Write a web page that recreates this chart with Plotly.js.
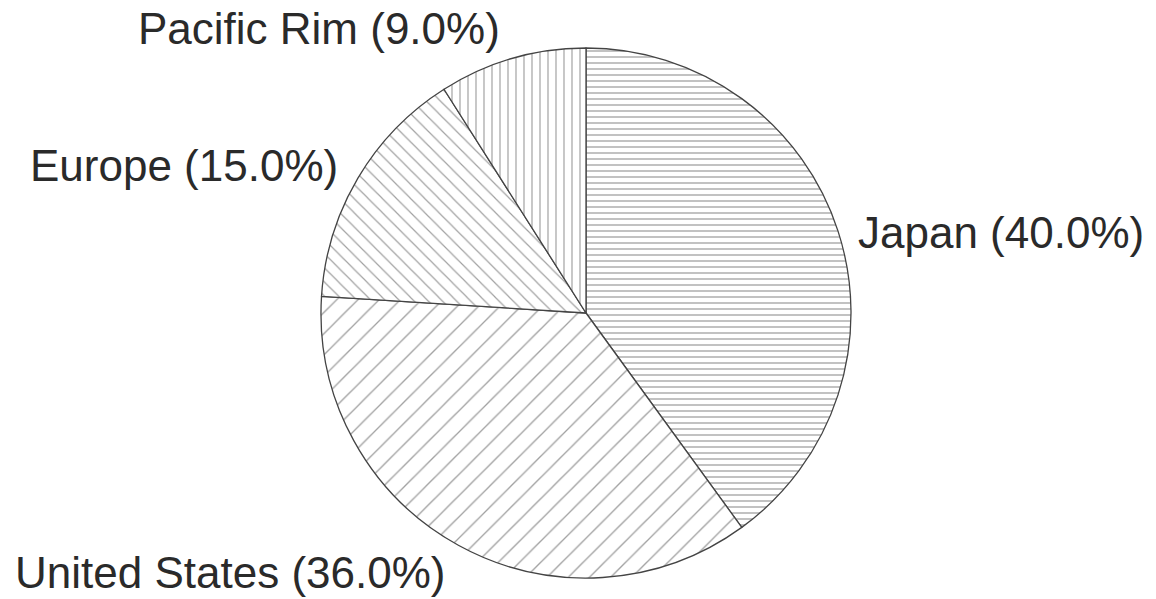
<!DOCTYPE html>
<html>
<head>
<meta charset="utf-8">
<script src="https://cdn.plot.ly/plotly-3.0.1.min.js"></script>
<style>html,body{margin:0;padding:0;background:#fff;}#chart{width:1156px;height:599px;}</style>
</head>
<body>
<div id="chart"></div>
<script>
const regions = ["Japan", "United States", "Europe", "Pacific Rim"];
const shares = [40.0, 36.0, 15.0, 9.0];

const patternShapes = ["-", "/", "\\", "|"];
const patternSizes = [6, 15, 10, 8];
const patternSolidity = [0.22, 0.09, 0.12, 0.15];

// label placement (paper coords) per region
const labelX = [857/1156, 446/1156, 339/1156, 501/1156];
const labelY = [1-232/599, 1-572/599, 1-165/599, 1-28/599];
const labelAnchor = ["left", "right", "right", "right"];

const W = 1156, H = 599;
const cx = 586, cy = 313, r = 265;

const trace = {
  type: "pie",
  labels: regions,
  values: shares,
  sort: false,
  direction: "clockwise",
  rotation: 0,
  textinfo: "none",
  hoverinfo: "label+percent",
  showlegend: false,
  domain: {
    x: [(cx - r) / W, (cx + r) / W],
    y: [1 - (cy + r) / H, 1 - (cy - r) / H]
  },
  marker: {
    colors: ["#ffffff", "#ffffff", "#ffffff", "#ffffff"],
    line: {color: "#444444", width: 1.3},
    pattern: {
      shape: patternShapes,
      size: patternSizes,
      solidity: patternSolidity,
      fgcolor: "#444444",
      bgcolor: "#ffffff",
      fillmode: "overlay"
    }
  }
};

const annotations = regions.map((name, i) => ({
  text: name + " (" + shares[i].toFixed(1) + "%)",
  xref: "paper", yref: "paper",
  x: labelX[i], y: labelY[i],
  xanchor: labelAnchor[i], yanchor: "middle",
  borderpad: 0,
  showarrow: false,
  font: {family: "Liberation Sans, Arial, sans-serif", size: 44, color: "#2a2a2a"}
}));

const layout = {
  width: W, height: H,
  margin: {l: 0, r: 0, t: 0, b: 0},
  paper_bgcolor: "#ffffff",
  plot_bgcolor: "#ffffff",
  annotations: annotations
};

Plotly.newPlot("chart", [trace], layout, {staticPlot: true, displayModeBar: false});
</script>
</body>
</html>
